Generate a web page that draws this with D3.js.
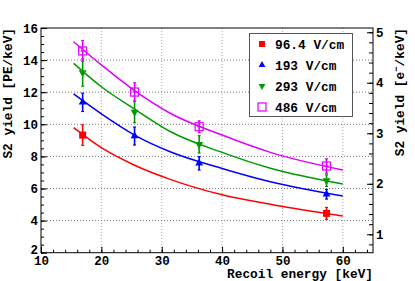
<!DOCTYPE html>
<html>
<head>
<meta charset="utf-8">
<script src="https://cdn.jsdelivr.net/npm/d3@7"></script>
<style>
  body { margin: 0; background: #fff; }
  svg { display: block; }
  text { font-family: "Liberation Mono", "DejaVu Sans Mono", monospace; font-weight: bold; }
</style>
</head>
<body>
<script>
// measured points (energy in keV, S2 yield in PE/keV)
var energies = [16.9, 25.5, 36.2, 57.3];
var fields = ['96.4 V/cm', '193 V/cm', '293 V/cm', '486 V/cm'];
var colors = ['#ff0000', '#0000ff', '#009a00', '#e000ff'];
var markers = ['square', 'triangleUp', 'triangleDown', 'openSquare'];

var yield96 = [9.33, null, null, 4.45];
var err96 = [0.64, null, null, 0.37];
var yield193 = [11.37, 9.27, 7.57, 5.64];
var err193 = [0.57, 0.56, 0.42, 0.30];
var yield293 = [13.22, 10.77, 8.75, 6.49];
var err293 = [0.85, 0.67, 0.54, 0.36];
var yield486 = [14.57, 12.01, 9.85, 7.40];
var err486 = [0.65, 0.58, 0.37, 0.45];

// fit curves
var fitEnergy = [15.4, 20, 25.5, 31.4, 40, 48, 60];
var fit96 = [9.79, 8.54, 7.45, 6.57, 5.61, 5.02, 4.29];
var fit193 = [11.89, 10.65, 9.33, 8.29, 7.25, 6.42, 5.53];
var fit293 = [13.8, 12.34, 10.95, 9.55, 8.25, 7.26, 6.28];
var fit486 = [15.15, 13.7, 12.1, 10.69, 9.33, 8.25, 7.15];

var xTicks = [10, 20, 30, 40, 50, 60];
var yTicks = [2, 4, 6, 8, 10, 12, 14, 16];
var y2Ticks = [1, 2, 3, 4, 5];
var pePerElectron = 3.147;

var yields = [yield96, yield193, yield293, yield486];
var errs = [err96, err193, err293, err486];
var fits = [fit96, fit193, fit293, fit486];

var W = 415, H = 281;
var padL = 41, padR = 373, padT = 28, padB = 252.7;

var svg = d3.select('body').append('svg').attr('width', W).attr('height', H);

var x = d3.scaleLinear().domain([10, 65]).range([padL, padR]);
var y = d3.scaleLinear().domain([2, 16]).range([padB, padT]);
var y2 = d3.scaleLinear().domain([2 / pePerElectron, 16 / pePerElectron]).range([padB, padT]);

// grid
var grid = svg.append('g');
grid.selectAll('line.gx').data(xTicks.slice(1)).enter().append('line')
    .attr('x1', function(d) { return x(d); }).attr('x2', function(d) { return x(d); })
    .attr('y1', padT).attr('y2', padB)
    .attr('stroke', '#aaa').attr('stroke-width', 1).attr('stroke-dasharray', '1,2');
grid.selectAll('line.gy').data(yTicks.slice(1, -1)).enter().append('line')
    .attr('x1', padL).attr('x2', padR)
    .attr('y1', function(d) { return y(d); }).attr('y2', function(d) { return y(d); })
    .attr('stroke', '#777').attr('stroke-width', 1).attr('stroke-dasharray', '1,2');

// axes
function styleAxis(g) {
    g.select('.domain').remove();
    g.selectAll('line').attr('stroke', '#000');
    g.selectAll('text').attr('font-size', 12.5).attr('fill', '#000');
}

svg.append('g').attr('transform', 'translate(0,' + padB + ')')
    .call(d3.axisTop(x).tickValues(d3.range(10, 65.01, 2)).tickSize(3).tickFormat(''))
    .call(styleAxis);
svg.append('g').attr('transform', 'translate(0,' + padB + ')')
    .call(d3.axisBottom(x).tickValues(xTicks).tickSize(0).tickPadding(3))
    .call(styleAxis);
svg.append('g').attr('transform', 'translate(0,' + padB + ')')
    .call(d3.axisTop(x).tickValues(xTicks).tickSize(6).tickFormat(''))
    .call(styleAxis);

svg.append('g').attr('transform', 'translate(' + padL + ',0)')
    .call(d3.axisRight(y).tickValues(d3.range(2, 16.01, 0.5)).tickSize(3).tickFormat(''))
    .call(styleAxis);
svg.append('g').attr('transform', 'translate(' + padL + ',0)')
    .call(d3.axisRight(y).tickValues(yTicks).tickSize(6).tickFormat(''))
    .call(styleAxis);
svg.append('g').attr('transform', 'translate(' + padL + ',0)')
    .call(d3.axisLeft(y).tickValues(yTicks).tickSize(0).tickPadding(3))
    .call(styleAxis)
    .call(function(g) {
        g.selectAll('.tick').filter(function(d) { return d === 2; })
            .select('text').attr('dy', '0.1em');
    });

svg.append('g').attr('transform', 'translate(' + padR + ',0)')
    .call(d3.axisLeft(y2).tickValues(d3.range(0.8, 5.01, 0.2)).tickSize(4).tickFormat(''))
    .call(styleAxis);
svg.append('g').attr('transform', 'translate(' + padR + ',0)')
    .call(d3.axisLeft(y2).tickValues(y2Ticks).tickSize(6).tickFormat(''))
    .call(styleAxis);
svg.append('g').attr('transform', 'translate(' + padR + ',0)')
    .call(d3.axisRight(y2).tickValues(y2Ticks).tickSize(0).tickPadding(3).tickFormat(d3.format('d')))
    .call(styleAxis);

// frame
svg.append('rect').attr('x', padL).attr('y', padT)
    .attr('width', padR - padL).attr('height', padB - padT)
    .attr('fill', 'none').attr('stroke', '#000').attr('stroke-width', 1);

// titles
svg.append('text').attr('x', padR).attr('y', 278).attr('text-anchor', 'end')
    .attr('font-size', 12.8).text('Recoil energy [keV]');
svg.append('text').attr('transform', 'translate(12,' + padT + ') rotate(-90)')
    .attr('text-anchor', 'end').attr('font-size', 12.8).text('S2 yield [PE/keV]');
var t2 = svg.append('text').attr('transform', 'translate(404,' + padT + ') rotate(-90)')
    .attr('text-anchor', 'end').attr('font-size', 12.8);
t2.append('tspan').text('S2 yield [e');
t2.append('tspan').attr('font-size', 9).attr('dy', -5).text('\u2212');
t2.append('tspan').attr('dy', 5).text('/keV]');

// fit curves
var line = d3.line().curve(d3.curveMonotoneX)
    .x(function(d) { return x(d[0]); })
    .y(function(d) { return y(d[1]); });
fits.forEach(function(f, i) {
    svg.append('path').datum(d3.zip(fitEnergy, f))
        .attr('d', line).attr('fill', 'none')
        .attr('stroke', colors[i]).attr('stroke-width', 1.5);
});

// markers
function drawMarker(g, kind, cx, cy, color, s) {
    if (kind === 'square' || kind === 'openSquare') {
        g.append('rect').attr('x', cx - s / 2).attr('y', cy - s / 2)
            .attr('width', s).attr('height', s)
            .attr('fill', kind === 'square' ? color : 'none')
            .attr('stroke', color).attr('stroke-width', kind === 'square' ? 0 : 1.2);
    } else {
        var sym = d3.symbol().type(d3.symbolTriangle).size(s * s * 0.55);
        g.append('path').attr('d', sym)
            .attr('transform', 'translate(' + cx + ',' + cy + ')' + (kind === 'triangleDown' ? ' rotate(180)' : ''))
            .attr('fill', color);
    }
}

yields.forEach(function(ys, i) {
    var g = svg.append('g');
    ys.forEach(function(v, j) {
        if (v === null) return;
        var e = errs[i][j];
        var cx = x(energies[j]);
        g.append('line').attr('x1', cx).attr('x2', cx)
            .attr('y1', y(v + e)).attr('y2', y(v - e))
            .attr('stroke', colors[i]).attr('stroke-width', 1.6);
        [v + e, v - e].forEach(function(c) {
            g.append('line').attr('x1', cx - 1.5).attr('x2', cx + 1.5)
                .attr('y1', y(c)).attr('y2', y(c))
                .attr('stroke', colors[i]).attr('stroke-width', 1.2);
        });
        g.append('line').attr('x1', cx - 2).attr('x2', cx + 2)
            .attr('y1', y(v)).attr('y2', y(v))
            .attr('stroke', colors[i]).attr('stroke-width', 1.2);
        drawMarker(g, markers[i], cx, y(v), colors[i], i === 3 ? 8 : 7);
    });
});

// legend
var legend = svg.append('g');
legend.append('rect').attr('x', 249.5).attr('y', 33.5).attr('width', 103).attr('height', 83)
    .attr('fill', '#fff').attr('stroke', '#555').attr('stroke-width', 1);
fields.forEach(function(f, i) {
    var ly = 44 + i * 21;
    drawMarker(legend, markers[i], 262, ly, colors[i], i === 3 ? 8 : 6);
    legend.append('text').attr('x', 275).attr('y', ly + 4.5)
        .attr('font-size', 12.8).text(f);
});
</script>
</body>
</html>
